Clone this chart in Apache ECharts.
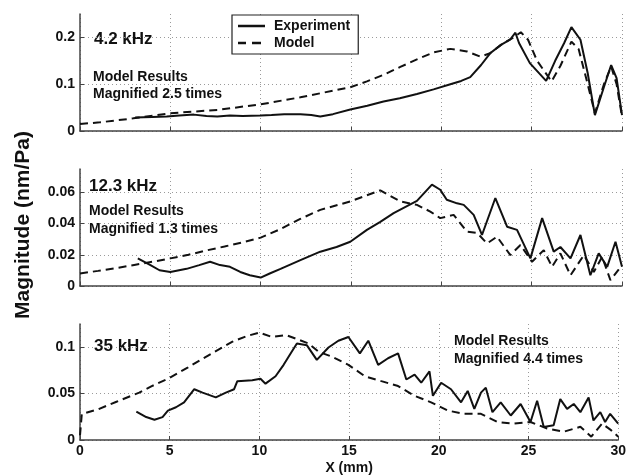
<!DOCTYPE html>
<html>
<head>
<meta charset="utf-8">
<script src="https://cdn.jsdelivr.net/npm/echarts@6/dist/echarts.min.js"></script>
<style>
  html, body { margin: 0; padding: 0; background: #fff; }
  #chart { width: 629px; height: 476px; }
</style>
</head>
<body>
<div id="chart"></div>
<script>
// x in mm, y in nm/Pa
const exp42 = [[3.05,0.029],[4,0.030],[4.8,0.031],[5.5,0.033],[6.3,0.035],[7,0.032],[7.6,0.031],[8.3,0.033],[9,0.032],[10,0.033],[10.6,0.034],[11.3,0.036],[12.2,0.036],[12.8,0.034],[13.3,0.031],[14,0.036],[14.96,0.046],[15.9,0.054],[16.8,0.063],[17.7,0.070],[18.65,0.079],[19.57,0.089],[20.5,0.100],[21.1,0.107],[21.6,0.115],[22.2,0.141],[22.7,0.166],[23.3,0.184],[23.8,0.195],[24.1,0.210],[24.3,0.188],[24.9,0.145],[25.8,0.107],[26.3,0.150],[26.8,0.188],[27.2,0.222],[27.7,0.195],[28.1,0.124],[28.5,0.034],[29,0.094],[29.4,0.141],[29.7,0.113],[30,0.034]];
const model42 = [[0,0.015],[1.1,0.0185],[2.95,0.027],[5,0.038],[7.6,0.045],[10,0.057],[12.2,0.072],[14.96,0.0935],[15.88,0.106],[16.8,0.120],[17.73,0.137],[18.65,0.153],[19.57,0.168],[20.5,0.1755],[21.42,0.170],[22.16,0.159],[22.7,0.166],[23.3,0.184],[24,0.200],[24.4,0.211],[24.8,0.195],[25.3,0.150],[26.1,0.106],[26.6,0.140],[27.2,0.191],[27.6,0.175],[28.1,0.100],[28.5,0.038],[29,0.100],[29.4,0.138],[29.7,0.100],[30,0.031]];

const exp123 = [[3.2,0.0177],[3.9,0.0134],[4.4,0.0101],[5,0.009],[5.9,0.011],[6.6,0.0134],[7.2,0.0155],[7.75,0.0134],[8.3,0.0123],[8.87,0.009],[9.4,0.0069],[10,0.0054],[10.5,0.008],[11.1,0.011],[12.2,0.0166],[13.3,0.022],[14.2,0.025],[14.96,0.0284],[15.88,0.036],[16.6,0.041],[17.36,0.0467],[18.65,0.0546],[19.48,0.065],[19.94,0.0617],[20.3,0.0553],[20.87,0.053],[21.24,0.052],[21.79,0.0456],[22.25,0.0327],[22.99,0.0564],[23.64,0.038],[24.19,0.036],[24.93,0.0177],[25.58,0.0435],[26.22,0.022],[26.59,0.025],[27.15,0.0177],[27.7,0.0327],[28.25,0.0069],[28.71,0.0209],[29.18,0.0123],[29.64,0.0284],[30,0.0123]];
const model123 = [[0,0.008],[1,0.0097],[2,0.0115],[3,0.0135],[4,0.0155],[5,0.0177],[6,0.020],[7,0.0228],[8,0.0253],[9,0.028],[10,0.031],[11,0.036],[12.19,0.043],[13.3,0.0488],[14.96,0.0542],[16.62,0.0613],[17.73,0.0542],[18.65,0.052],[19.39,0.0477],[19.94,0.0435],[20.68,0.0456],[21.42,0.0348],[21.98,0.034],[22.53,0.0273],[23.08,0.0316],[23.82,0.0198],[24.38,0.0263],[25.02,0.0155],[25.67,0.023],[26.13,0.0123],[26.59,0.0209],[27.15,0.0069],[27.89,0.0198],[28.44,0.009],[28.9,0.0187],[29.36,0.0037],[30,0.0134]];

const exp35 = [[3.14,0.0307],[3.69,0.0247],[4.15,0.0219],[4.6,0.0247],[4.9,0.0317],[5.35,0.0353],[5.8,0.0406],[6.37,0.0547],[6.83,0.0511],[7.57,0.0459],[8.13,0.0511],[8.59,0.0547],[8.77,0.0634],[9.6,0.0645],[10.06,0.0659],[10.34,0.0607],[10.9,0.0687],[11.35,0.081],[11.8,0.095],[12.09,0.104],[12.65,0.102],[13.2,0.0864],[13.85,0.0997],[14.4,0.107],[14.96,0.111],[15.6,0.0934],[16.07,0.107],[16.62,0.081],[17.17,0.0881],[17.73,0.0934],[18.19,0.0652],[18.65,0.0705],[19.02,0.0617],[19.48,0.074],[19.67,0.0476],[20.13,0.0617],[20.68,0.0547],[21.24,0.0406],[21.61,0.0529],[21.98,0.0335],[22.35,0.0511],[22.62,0.0564],[22.99,0.030],[23.45,0.0406],[24.01,0.0264],[24.56,0.0388],[25.11,0.0194],[25.48,0.0423],[25.85,0.0141],[26.4,0.0159],[26.77,0.0441],[27.15,0.0335],[27.52,0.0388],[27.89,0.030],[28.35,0.0459],[28.62,0.0211],[29,0.030],[29.27,0.0194],[29.55,0.0282],[30,0.0176]];
const model35 = [[0,0.005],[0.1,0.028],[1,0.033],[2,0.041],[3.3,0.051],[4,0.058],[5,0.067],[6,0.078],[6.7,0.086],[7.5,0.095],[8.5,0.106],[9.3,0.112],[10,0.1157],[10.7,0.111],[11.5,0.113],[12.2,0.108],[12.74,0.104],[13.3,0.095],[14.04,0.0899],[14.96,0.081],[15.88,0.0687],[16.8,0.0634],[17.73,0.0581],[18.65,0.0476],[19.57,0.0406],[20.5,0.0317],[21.42,0.0282],[22.35,0.0282],[23.27,0.0194],[24.19,0.0176],[25.11,0.0194],[26.04,0.0124],[26.96,0.0089],[27.89,0.0142],[28.5,0.0036],[29.1,0.0176],[29.6,0.0106],[30,0.0036]];

const yMax = [0.25, 0.075, 0.125];
const yStep = [0.1, 0.02, 0.05];
const freqLabels = ['4.2 kHz', '12.3 kHz', '35 kHz'];
const magLabels = ['Magnified 2.5 times', 'Magnified 1.3 times', 'Magnified 4.4 times'];

const FONT = '"Liberation Sans", Arial, sans-serif';
const grids = [
  { left: 80, right: 7, top: 14, height: 117 },
  { left: 80, right: 7, top: 169, height: 117 },
  { left: 80, right: 7, top: 324, height: 118 }
];

const gridLine = { show: true, showMaxLine: true, lineStyle: { color: '#9a9a9a', type: [1, 3], width: 1 } };
const axisLine = { show: true, lineStyle: { color: '#444', width: 1.5 } };

const xAxes = grids.map((g, i) => ({
  type: 'value', gridIndex: i, min: 0, max: 30, interval: 5,
  axisLine: axisLine,
  axisTick: { show: true, inside: true, length: 4, lineStyle: { color: '#444' } },
  axisLabel: { show: i === 2, margin: 4, color: '#111', fontSize: 14, fontWeight: 'bold', fontFamily: FONT },
  splitLine: gridLine,
  name: i === 2 ? 'X (mm)' : '',
  nameLocation: 'middle', nameGap: 21,
  nameTextStyle: { color: '#111', fontSize: 14, fontWeight: 'bold', fontFamily: FONT }
}));

const yAxes = grids.map((g, i) => ({
  type: 'value', gridIndex: i, min: 0, max: yMax[i], interval: yStep[i],
  axisLine: axisLine,
  axisTick: { show: true, inside: true, length: 4, lineStyle: { color: '#444' } },
  axisLabel: { showMaxLabel: false, margin: 5, color: '#111', fontSize: 14, fontWeight: 'bold', fontFamily: FONT },
  splitLine: Object.assign({}, gridLine, { showMaxLine: false })
}));

const lineSeries = (name, data, idx, dashed) => ({
  name: name, type: 'line', data: data,
  xAxisIndex: idx, yAxisIndex: idx,
  symbol: 'none', silent: true, animation: false,
  itemStyle: { color: '#111' },
  lineStyle: { color: '#111', width: 2, type: dashed ? [8, 5] : 'solid' }
});

const series = [
  lineSeries('Experiment', exp42, 0, false),
  lineSeries('Model', model42, 0, true),
  lineSeries('Experiment', exp123, 1, false),
  lineSeries('Model', model123, 1, true),
  lineSeries('Experiment', exp35, 2, false),
  lineSeries('Model', model35, 2, true)
];

const txt = (text, x, y, size) => ({
  type: 'text', x: x, y: y,
  style: { text: text, fill: '#111', font: 'bold ' + size + 'px ' + FONT, verticalAlign: 'middle' }
});

// legend samples: thin bars, the trailing zero-width stroke keeps the icon box 31 wide
const solidIcon = 'path://M0,0H27V2.6H0Z M31,0L31,2.6';
const dashIcon = 'path://M0,0H8V2.6H0Z M14,0H23V2.6H14Z M31,0L31,2.6';

const chart = echarts.init(document.getElementById('chart'));
chart.setOption({
  backgroundColor: '#fff',
  color: ['#111'],
  animation: false,
  grid: grids,
  xAxis: xAxes,
  yAxis: yAxes,
  legend: {
    data: [{ name: 'Experiment', icon: solidIcon }, { name: 'Model', icon: dashIcon }],
    orient: 'vertical', left: 232, top: 15,
    itemWidth: 31, itemHeight: 14, itemGap: 3,
    symbolKeepAspect: true,
    padding: [4, 8, 4, 6],
    borderColor: '#222', borderWidth: 1.2,
    backgroundColor: '#fff',
    textStyle: { color: '#111', fontSize: 14, fontWeight: 'bold', fontFamily: FONT }
  },
  series: series,
  graphic: [
    txt(freqLabels[0], 94, 39, 17),
    txt('Model Results', 93, 77, 14),
    txt(magLabels[0], 93, 94, 14),
    txt(freqLabels[1], 89, 186, 17),
    txt('Model Results', 89, 211, 14),
    txt(magLabels[1], 89, 229, 14),
    txt(freqLabels[2], 94, 346, 17),
    txt('Model Results', 454, 341, 14),
    txt(magLabels[2], 454, 359, 14),
    {
      type: 'text', x: 23, y: 225, rotation: Math.PI / 2,
      style: { text: 'Magnitude (nm/Pa)', fill: '#111', font: 'bold 21px ' + FONT, align: 'center', verticalAlign: 'middle' }
    }
  ]
});
</script>
</body>
</html>
